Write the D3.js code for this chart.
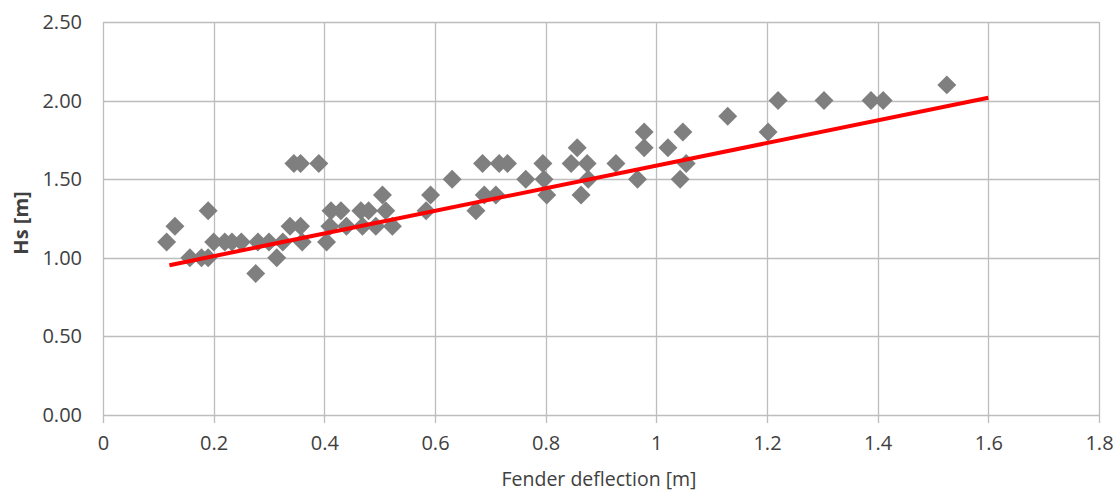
<!DOCTYPE html>
<html>
<head>
<meta charset="utf-8">
<script src="https://cdn.jsdelivr.net/npm/d3@7"></script>
<style>
  body { margin: 0; background: #fff; }
  text { font-family: "Open Sans", sans-serif; fill: #404040; }
</style>
</head>
<body>
<svg id="chart" width="1117" height="493"></svg>
<script>
// Fender deflection [m] vs Hs [m]
const deflection = [
  0.115, 0.13, 0.157, 0.178, 0.19, 0.19,
  0.20, 0.22, 0.233, 0.25, 0.276, 0.28, 0.30, 0.314, 0.325,
  0.338, 0.345, 0.357, 0.357, 0.36, 0.39,
  0.404, 0.41, 0.412, 0.43, 0.44, 0.466, 0.469, 0.48, 0.493, 0.505, 0.511, 0.523,
  0.584, 0.592, 0.631, 0.674, 0.686, 0.689, 0.71, 0.716, 0.731,
  0.764, 0.795, 0.797, 0.802, 0.846, 0.857, 0.864, 0.875, 0.877,
  0.927, 0.966, 0.978, 0.978, 1.021, 1.043, 1.048, 1.054,
  1.129, 1.202, 1.22, 1.303, 1.388, 1.41, 1.525
];
const hs = [
  1.10, 1.20, 1.00, 1.00, 1.00, 1.30,
  1.10, 1.10, 1.10, 1.10, 0.90, 1.10, 1.10, 1.00, 1.10,
  1.20, 1.60, 1.60, 1.20, 1.10, 1.60,
  1.10, 1.20, 1.30, 1.30, 1.20, 1.30, 1.20, 1.30, 1.20, 1.40, 1.30, 1.20,
  1.30, 1.40, 1.50, 1.30, 1.60, 1.40, 1.40, 1.60, 1.60,
  1.50, 1.60, 1.50, 1.40, 1.60, 1.70, 1.40, 1.60, 1.50,
  1.60, 1.50, 1.80, 1.70, 1.70, 1.50, 1.80, 1.60,
  1.90, 1.80, 2.00, 2.00, 2.00, 2.00, 2.10
];

// linear trendline end points
const trendX = [0.12, 1.6];
const trendY = [0.953, 2.018];

const xTicks = [0, 0.2, 0.4, 0.6, 0.8, 1, 1.2, 1.4, 1.6, 1.8];
const yTicks = [0, 0.5, 1, 1.5, 2, 2.5];

const margin = { top: 22, right: 18, bottom: 78, left: 103 };
const width = 1117, height = 493;

let svg = d3.select('#chart');

let x = d3.scaleLinear()
  .domain([0, 1.8])
  .range([margin.left, width - margin.right]);

let y = d3.scaleLinear()
  .domain([0, 2.5])
  .range([height - margin.bottom, margin.top]);

// Gridlines
svg.append('g')
  .selectAll('line.hgrid')
  .data(yTicks)
  .enter()
  .append('line')
    .attr('x1', x(0))
    .attr('x2', x(1.8))
    .attr('y1', d => Math.round(y(d)) + 0.5)
    .attr('y2', d => Math.round(y(d)) + 0.5)
    .attr('stroke', '#bdbdbd')
    .attr('stroke-width', 1.3);

svg.append('g')
  .selectAll('line.vgrid')
  .data(xTicks)
  .enter()
  .append('line')
    .attr('x1', d => Math.round(x(d)) + 0.5)
    .attr('x2', d => Math.round(x(d)) + 0.5)
    .attr('y1', y(2.5))
    .attr('y2', y(0) + 8)
    .attr('stroke', '#bdbdbd')
    .attr('stroke-width', 1.3);

// Axes labels
let xAxis = d3.axisBottom(x)
  .tickValues(xTicks)
  .tickFormat(d3.format('~g'))
  .tickSize(0)
  .tickPadding(21);

let yAxis = d3.axisLeft(y)
  .tickValues(yTicks)
  .tickFormat(d3.format('.2f'))
  .tickSize(0)
  .tickPadding(21);

svg.append('g')
  .attr('transform', `translate(0,${y(0)})`)
  .call(xAxis)
  .call(g => g.select('.domain').remove())
  .selectAll('text')
    .style('font-size', '20px')
    .attr('fill', '#404040');

svg.append('g')
  .attr('transform', `translate(${x(0)},0)`)
  .call(yAxis)
  .call(g => g.select('.domain').remove())
  .selectAll('text')
    .style('font-size', '20px')
    .attr('fill', '#404040');

// Points
let points = d3.zip(deflection, hs);
svg.append('g')
  .selectAll('path.point')
  .data(points)
  .enter()
  .append('path')
    .attr('d', d3.symbol(d3.symbolSquare, 180))
    .attr('transform', d => `translate(${x(d[0])},${y(d[1])}) rotate(45)`)
    .attr('fill', '#7f7f7f');

// Trendline
svg.append('path')
  .datum(d3.zip(trendX, trendY))
  .attr('d', d3.line().x(d => x(d[0])).y(d => y(d[1])))
  .attr('stroke', '#ff0000')
  .attr('stroke-width', 4)
  .attr('fill', 'none');

// Titles
svg.append('text')
  .attr('x', 599)
  .attr('y', 486)
  .attr('text-anchor', 'middle')
  .style('font-size', '19.5px')
  .text('Fender deflection [m]');

svg.append('text')
  .attr('transform', 'translate(28,223) rotate(-90)')
  .attr('text-anchor', 'middle')
  .style('font-size', '20px')
  .style('font-weight', 'bold')
  .text('Hs [m]');
</script>
</body>
</html>
